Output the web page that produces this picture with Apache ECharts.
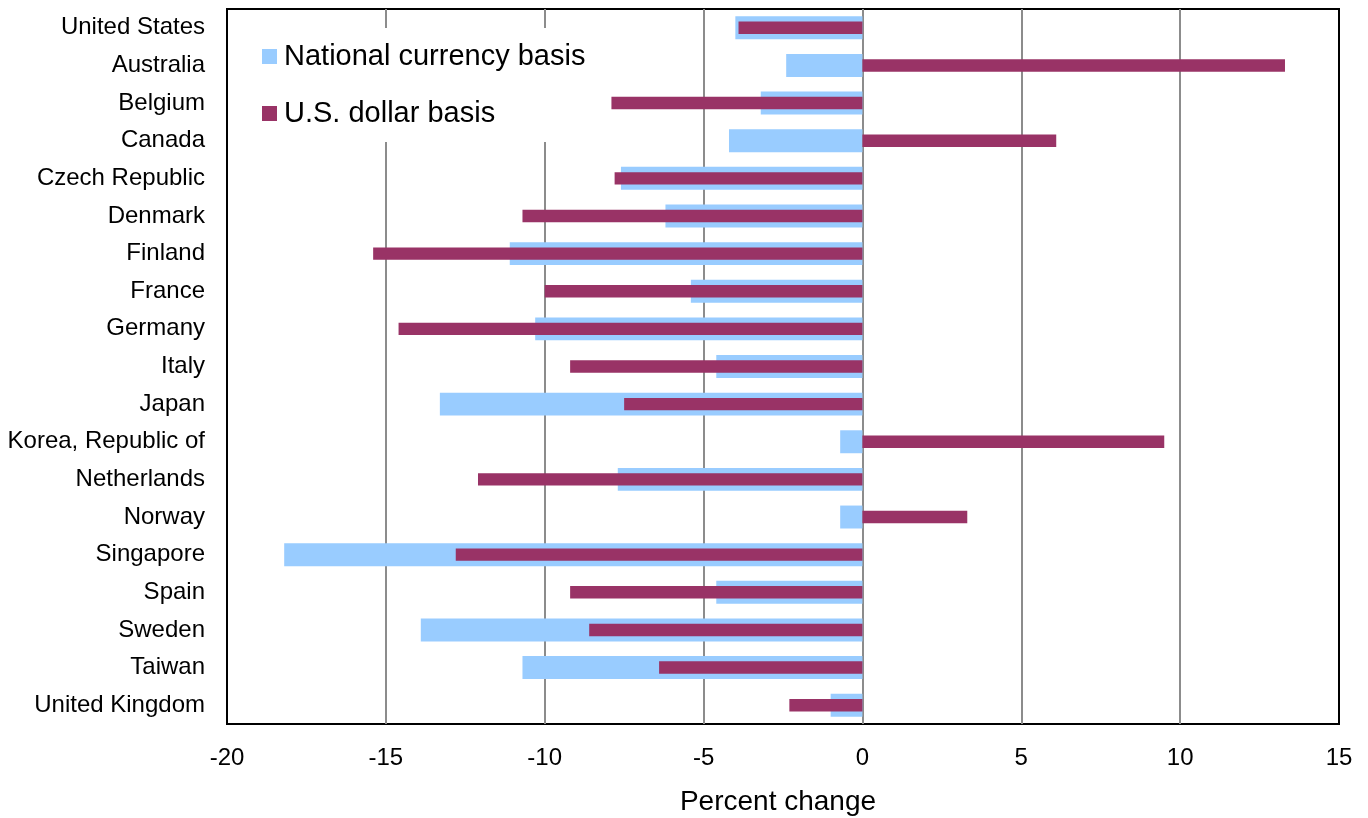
<!DOCTYPE html>
<html>
<head>
<meta charset="utf-8">
<script src="https://cdn.jsdelivr.net/npm/echarts@6/dist/echarts.min.js"></script>
<style>
  html, body { margin: 0; padding: 0; background: #fff; }
  #chart { width: 1368px; height: 818px; }
</style>
</head>
<body>
<div id="chart"></div>
<script>
// 各国数据（百分比变化）
var countries = ['United States', 'Australia', 'Belgium', 'Canada', 'Czech Republic', 'Denmark',
    'Finland', 'France', 'Germany', 'Italy', 'Japan', 'Korea, Republic of', 'Netherlands',
    'Norway', 'Singapore', 'Spain', 'Sweden', 'Taiwan', 'United Kingdom'];
var nationalBasis = [-4.0, -2.4, -3.2, -4.2, -7.6, -6.2, -11.1, -5.4, -10.3, -4.6, -13.3, -0.7,
    -7.7, -0.7, -18.2, -4.6, -13.9, -10.7, -1.0];
var dollarBasis = [-3.9, 13.3, -7.9, 6.1, -7.8, -10.7, -15.4, -10.0, -14.6, -9.2, -7.5, 9.5,
    -12.1, 3.3, -12.8, -9.2, -8.6, -6.4, -2.3];
var xTicks = [-20, -15, -10, -5, 0, 5, 10, 15];

var font = '"Liberation Sans", Arial, sans-serif';
var myChart = echarts.init(document.getElementById('chart'));

// 网格线颜色：两端与边框同为黑色
var gridColors = xTicks.map(function(v, i) {
    return (i === 0 || i === xTicks.length - 1) ? '#000' : '#8c8c8c';
});

var options = {
    animation: false,
    backgroundColor: '#fff',
    grid: {
        left: 227,
        right: 29,
        top: 9,
        bottom: 94,
        outerBoundsMode: 'none',
        show: true,
        borderColor: '#000',
        borderWidth: 2,
        backgroundColor: 'transparent'
    },
    legend: {
        orient: 'vertical',
        left: 250,
        top: 28,
        padding: [14, 12],
        itemGap: 28,
        itemWidth: 15,
        itemHeight: 15,
        icon: 'rect',
        backgroundColor: '#fff',
        textStyle: {
            fontFamily: font,
            fontSize: 29,
            color: '#000',
            padding: [0, 0, 0, 2]
        },
        data: ['National currency basis', 'U.S. dollar basis']
    },
    xAxis: {
        type: 'value',
        min: xTicks[0],
        max: xTicks[xTicks.length - 1],
        interval: 5,
        name: 'Percent change',
        nameLocation: 'middle',
        nameGap: 64,
        nameTextStyle: {
            fontFamily: font,
            fontSize: 28,
            color: '#000',
            padding: [0, 10, 0, 0]
        },
        axisLine: { show: false },
        axisTick: { show: false },
        axisLabel: {
            fontFamily: font,
            fontSize: 24,
            color: '#000',
            margin: 22
        },
        splitLine: {
            show: true,
            lineStyle: { color: gridColors, width: 2 }
        }
    },
    yAxis: [{
        type: 'category',
        inverse: true,
        data: countries,
        axisLine: { show: false },
        axisTick: { show: false },
        splitLine: { show: false },
        axisLabel: {
            fontFamily: font,
            fontSize: 24,
            color: '#000',
            margin: 22
        }
    }, {
        // 第二个类目轴，让两组柱子各自居中重叠
        type: 'category',
        inverse: true,
        data: countries,
        show: false
    }],
    series: [{
        name: 'National currency basis',
        type: 'bar',
        yAxisIndex: 0,
        barWidth: '61%',
        itemStyle: { color: '#99ccff' },
        data: nationalBasis
    }, {
        name: 'U.S. dollar basis',
        type: 'bar',
        yAxisIndex: 1,
        barWidth: '33%',
        itemStyle: { color: '#993366' },
        data: dollarBasis
    }]
};
myChart.setOption(options);
</script>
</body>
</html>
